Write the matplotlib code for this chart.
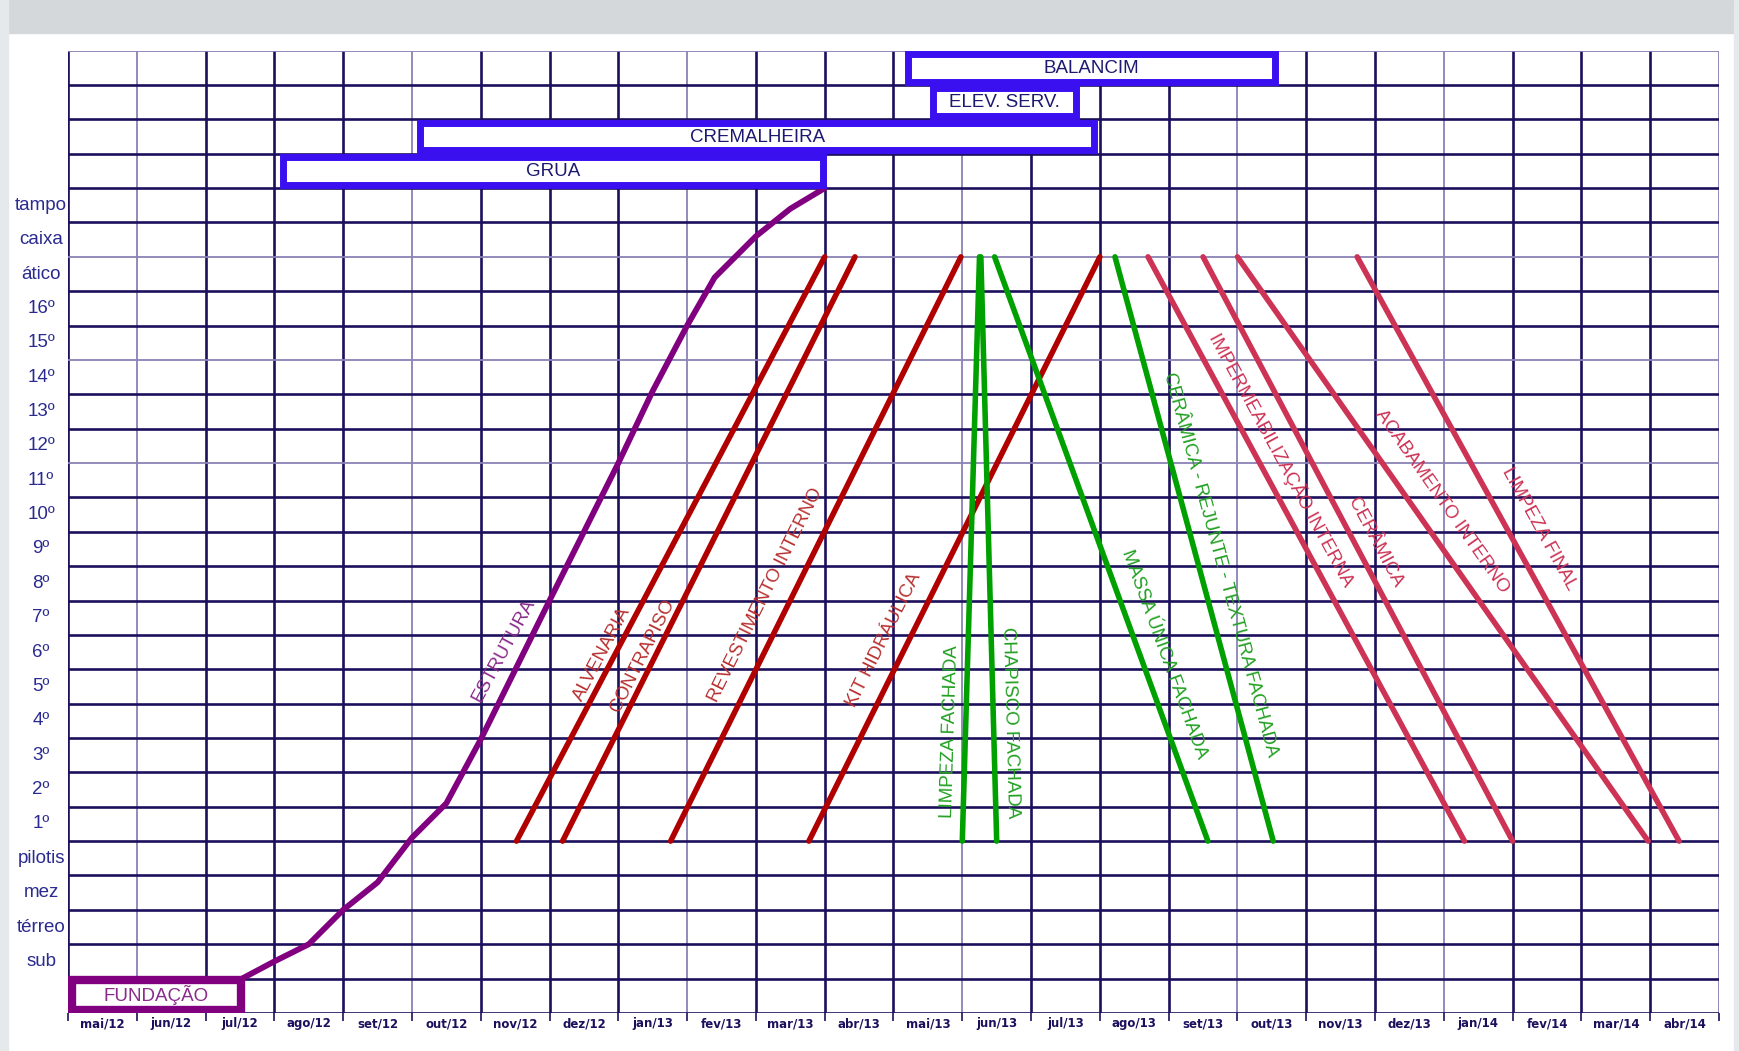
import numpy as np
import matplotlib
matplotlib.use('Agg')
import matplotlib.pyplot as plt
from matplotlib.patches import Rectangle

# meses (colunas) e pavimentos (linhas)
meses = ['mai/12', 'jun/12', 'jul/12', 'ago/12', 'set/12', 'out/12', 'nov/12', 'dez/12',
         'jan/13', 'fev/13', 'mar/13', 'abr/13', 'mai/13', 'jun/13', 'jul/13', 'ago/13',
         'set/13', 'out/13', 'nov/13', 'dez/13', 'jan/14', 'fev/14', 'mar/14', 'abr/14']
pavimentos = ['sub', 'térreo', 'mez', 'pilotis', '1º', '2º', '3º', '4º', '5º', '6º', '7º', '8º',
              '9º', '10º', '11º', '12º', '13º', '14º', '15º', '16º', 'ático', 'caixa', 'tampo']

# curva da estrutura (mês, pavimento)
estrutura_x = [2.53, 3.0, 3.5, 4.0, 4.5, 5.0, 5.5, 6.0, 7.0, 8.0, 8.5, 9.0, 9.4, 10.0, 10.5, 11.0]
estrutura_y = [1.0, 1.5, 2.0, 3.0, 3.8, 5.1, 6.1, 7.96, 12.0, 16.0, 18.1, 20.0, 21.4, 22.6, 23.4, 24.0]

# atividades: mês no 1º pavimento (base) e mês no ático (topo)
atividades = ['ALVENARIA', 'CONTRAPISO', 'REVESTIMENTO INTERNO', 'KIT HIDRÁULICA',
              'LIMPEZA FACHADA', 'CHAPISCO FACHADA', 'MASSA ÚNICA FACHADA',
              'CERÂMICA - REJUNTE - TEXTURA FACHADA', 'IMPERMEABILIZAÇÃO INTERNA',
              'CERÂMICA', 'ACABAMENTO INTERNO', 'LIMPEZA FINAL']
mes_base = [6.52, 7.19, 8.76, 10.77, 13.0, 13.5, 16.57, 17.52, 20.3, 21.0, 22.97, 23.42]
mes_topo = [11.0, 11.44, 12.98, 15.0, 13.25, 13.27, 13.47, 15.22, 15.7, 16.5, 17.0, 18.74]
grupo = ['int', 'int', 'int', 'int', 'fach', 'fach', 'fach', 'fach', 'fin', 'fin', 'fin', 'fin']
# posição dos rótulos
rot_x = [7.77, 8.36, 10.14, 11.86, 12.82, 13.70, 15.94, 16.75, 17.64, 19.0, 19.97, 21.38]
rot_y = [10.45, 10.39, 12.16, 10.84, 8.19, 8.46, 10.45, 13.03, 16.1, 13.68, 14.9, 14.07]

# equipamentos (início, fim, linha)
equipamentos = ['GRUA', 'CREMALHEIRA', 'ELEV. SERV.', 'BALANCIM']
equip_ini = [3.12, 5.12, 12.57, 12.21]
equip_fim = [10.97, 14.92, 14.66, 17.55]
equip_linha = [24, 25, 26, 27]

cores = {'int': '#b00000', 'fach': '#00a000', 'fin': '#cc3355'}
cores_txt = {'int': '#b83030', 'fach': '#22a022', 'fin': '#cc3355'}
navy = '#1c0f5c'
fonte = ['Liberation Sans', 'DejaVu Sans']
fonte_estreita = ['Liberation Sans Narrow', 'DejaVu Sans']

fig = plt.figure(figsize=(17.39, 10.51), dpi=100)
fig.patch.set_facecolor('white')
fig.patches.append(Rectangle((0, 1 - 33 / 1051), 1, 33 / 1051, transform=fig.transFigure,
                             color='#d4d8db', zorder=-2))
fig.patches.append(Rectangle((0, 0), 8 / 1739, 1, transform=fig.transFigure,
                             color='#e6e9ec', zorder=-2))
fig.patches.append(Rectangle((1 - 5 / 1739, 0), 5 / 1739, 1, transform=fig.transFigure,
                             color='#e6e9ec', zorder=-2))

ax = fig.add_axes([0.0391, 0.0362, 0.9494, 0.9156])
ax.set_xlim(0, 24)
ax.set_ylim(0, 28)
for s in ax.spines.values():
    s.set_visible(False)

# grade
claras_x = [1, 5, 9, 13, 17, 20, 24]
claras_y = [16, 19, 22, 28]
for i in range(25):
    if i in claras_x:
        ax.axvline(i, color='#8a82b6', lw=1.3, zorder=1)
    else:
        ax.axvline(i, color=navy, lw=1.9, zorder=1)
for j in range(29):
    if j in claras_y:
        ax.axhline(j, color='#8a82b6', lw=1.3, zorder=1)
    else:
        ax.axhline(j, color=navy, lw=1.9, zorder=1)

# eixo x
ax.set_xticks(range(25))
ax.set_xticklabels([''] * 25)
ax.tick_params(axis='x', which='major', length=6, width=1.2, color=navy)
ax.set_xticks(np.arange(24) + 0.5, minor=True)
ax.set_xticklabels(meses, minor=True, fontsize=8.5, color=navy, family=fonte_estreita,
                   fontweight='bold')
ax.tick_params(axis='x', which='minor', length=0, pad=3)
ax.set_yticks([])

# rótulos dos pavimentos
for k, nome in enumerate(pavimentos):
    ax.text(-0.39, k + 1.5, nome, ha='center', va='center', fontsize=13.5, color='#2a2a90',
            family=fonte, clip_on=False)

# fundação
ax.add_patch(Rectangle((0.06, 0.1), 2.45, 0.85, facecolor='white', edgecolor='#800080',
                       lw=6, zorder=4))
ax.text(1.28, 0.52, 'FUNDAÇÃO', ha='center', va='center', fontsize=13.5, color='#8a2a8a',
        family=fonte, zorder=5)

# estrutura
ax.plot(estrutura_x, estrutura_y, color='#800080', lw=4.2, solid_capstyle='round', zorder=3)


def angulo(x0, y0, x1, y1):
    p0 = ax.transData.transform((x0, y0))
    p1 = ax.transData.transform((x1, y1))
    if p1[0] < p0[0]:
        p0, p1 = p1, p0
    return np.degrees(np.arctan2(p1[1] - p0[1], p1[0] - p0[0]))


ax.text(6.34, 10.55, 'ESTRUTURA', rotation=angulo(6.0, 7.96, 7.0, 12.0) - 2, rotation_mode='anchor',
        ha='center', va='center', fontsize=13.5, color='#8a2a8a', family=fonte, zorder=5)

# atividades
for nome, xb, xt, g, tx, ty in zip(atividades, mes_base, mes_topo, grupo, rot_x, rot_y):
    ax.plot([xb, xt], [5, 22], color=cores[g], lw=4, solid_capstyle='round', zorder=3)
    ax.text(tx, ty, nome, rotation=angulo(xb, 5, xt, 22), rotation_mode='anchor',
            ha='center', va='center', fontsize=13.5, color=cores_txt[g], family=fonte, zorder=5)

# equipamentos
for nome, xi, xf, ln in zip(equipamentos, equip_ini, equip_fim, equip_linha):
    ax.add_patch(Rectangle((xi, ln + 0.1), xf - xi, 0.8, facecolor='white', edgecolor='#3a10f0',
                           lw=5, zorder=4))
    ax.text((xi + xf) / 2, ln + 0.48, nome, ha='center', va='center', fontsize=13.5,
            color='#1c1a70', family=fonte, zorder=5)

fig.savefig('out.png', dpi=100)
